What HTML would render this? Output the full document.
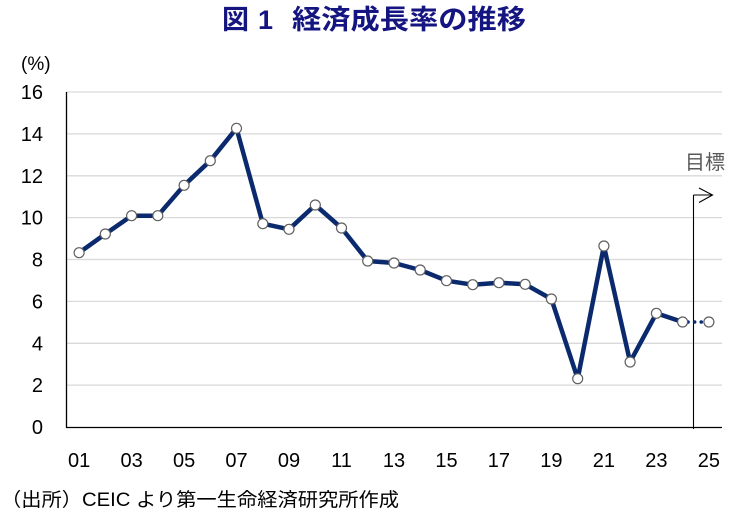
<!DOCTYPE html>
<html><head><meta charset="utf-8"><style>
html,body{margin:0;padding:0;background:#fff;}
svg{display:block;}
</style></head><body>
<svg width="741" height="517" viewBox="0 0 741 517" xmlns="http://www.w3.org/2000/svg">
<rect width="741" height="517" fill="#fff"/>
<!-- title -->
<g font-family="'Liberation Sans','Noto Sans CJK JP',sans-serif" font-weight="bold" font-size="27" fill="#151581">
<text x="222" y="29">図</text>
<text x="258" y="29">1</text>
<text x="292" y="29" textLength="234" lengthAdjust="spacingAndGlyphs">経済成長率の推移</text>
</g>
<!-- gridlines -->
<g stroke="#d9d9d9" stroke-width="1.3">
<line x1="66" x2="722" y1="385.1" y2="385.1"/>
<line x1="66" x2="722" y1="343.3" y2="343.3"/>
<line x1="66" x2="722" y1="301.4" y2="301.4"/>
<line x1="66" x2="722" y1="259.5" y2="259.5"/>
<line x1="66" x2="722" y1="217.6" y2="217.6"/>
<line x1="66" x2="722" y1="175.8" y2="175.8"/>
<line x1="66" x2="722" y1="133.9" y2="133.9"/>
<line x1="66" x2="722" y1="92" y2="92"/>
</g>
<!-- axes -->
<line x1="66.5" y1="92" x2="66.5" y2="427.5" stroke="#000" stroke-width="1.3"/>
<line x1="66" y1="427.5" x2="722" y2="427.5" stroke="#000" stroke-width="1.3"/>
<!-- target arrow -->
<g stroke="#000" stroke-width="1.1" fill="none">
<line x1="693.5" y1="195" x2="693.5" y2="429"/>
<line x1="693.5" y1="195" x2="712" y2="195"/>
<polyline points="699,188 712.5,195 699,202.5"/>
</g>
<text x="685" y="169" font-family="'Liberation Sans','Noto Sans CJK JP',sans-serif" font-size="20" fill="#595959">目標</text>
<!-- series -->
<polyline fill="none" stroke="#0b2a6e" stroke-width="4.5" stroke-linejoin="round" points="79.1,252.7 105.3,234 131.6,215.7 157.8,215.7 184.1,185.3 210.3,160.7 236.5,128.3 262.8,223.7 289.0,229.3 315.3,205 341.5,228 367.7,261 394.0,263 420.2,270 446.5,280.7 472.7,284.7 498.9,282.7 525.2,284.3 551.4,299 577.7,378.7 603.9,246 630.1,362 656.4,313.3 682.6,322"/>
<line x1="688" y1="322" x2="704" y2="322" stroke="#0b2a6e" stroke-width="3.5" stroke-linecap="round" stroke-dasharray="0.1 6.5"/>
<g fill="#fff" stroke="#606060" stroke-width="1.2">
<circle cx="79.1" cy="252.7" r="5"/><circle cx="105.3" cy="234" r="5"/><circle cx="131.6" cy="215.7" r="5"/><circle cx="157.8" cy="215.7" r="5"/><circle cx="184.1" cy="185.3" r="5"/><circle cx="210.3" cy="160.7" r="5"/><circle cx="236.5" cy="128.3" r="5"/><circle cx="262.8" cy="223.7" r="5"/><circle cx="289.0" cy="229.3" r="5"/><circle cx="315.3" cy="205" r="5"/><circle cx="341.5" cy="228" r="5"/><circle cx="367.7" cy="261" r="5"/><circle cx="394.0" cy="263" r="5"/><circle cx="420.2" cy="270" r="5"/><circle cx="446.5" cy="280.7" r="5"/><circle cx="472.7" cy="284.7" r="5"/><circle cx="498.9" cy="282.7" r="5"/><circle cx="525.2" cy="284.3" r="5"/><circle cx="551.4" cy="299" r="5"/><circle cx="577.7" cy="378.7" r="5"/><circle cx="603.9" cy="246" r="5"/><circle cx="630.1" cy="362" r="5"/><circle cx="656.4" cy="313.3" r="5"/><circle cx="682.6" cy="322" r="5"/><circle cx="708.9" cy="322" r="5"/>
</g>
<!-- y labels -->
<g font-family="'Liberation Sans',sans-serif" font-size="20" fill="#000" text-anchor="end">
<text x="43" y="434">0</text>
<text x="43" y="392.2">2</text>
<text x="43" y="350.4">4</text>
<text x="43" y="308.5">6</text>
<text x="43" y="266.6">8</text>
<text x="43" y="224.7">10</text>
<text x="43" y="182.9">12</text>
<text x="43" y="141">14</text>
<text x="43" y="99.1">16</text>
</g>
<text x="21" y="70" font-family="'Liberation Sans',sans-serif" font-size="19" fill="#000">(%)</text>
<!-- x labels -->
<g font-family="'Liberation Sans',sans-serif" font-size="20" fill="#000" text-anchor="middle">
<text x="79.1" y="467">01</text>
<text x="131.6" y="467">03</text>
<text x="184.1" y="467">05</text>
<text x="236.5" y="467">07</text>
<text x="289.0" y="467">09</text>
<text x="341.5" y="467">11</text>
<text x="394.0" y="467">13</text>
<text x="446.5" y="467">15</text>
<text x="498.9" y="467">17</text>
<text x="551.4" y="467">19</text>
<text x="603.9" y="467">21</text>
<text x="656.4" y="467">23</text>
<text x="708.9" y="467">25</text>
</g>
<!-- footer -->
<text x="1" y="506" font-family="'Liberation Sans','Noto Sans CJK JP',sans-serif" font-size="19" fill="#000" textLength="398" lengthAdjust="spacingAndGlyphs">（出所）CEIC より第一生命経済研究所作成</text>
</svg>
</body></html>
